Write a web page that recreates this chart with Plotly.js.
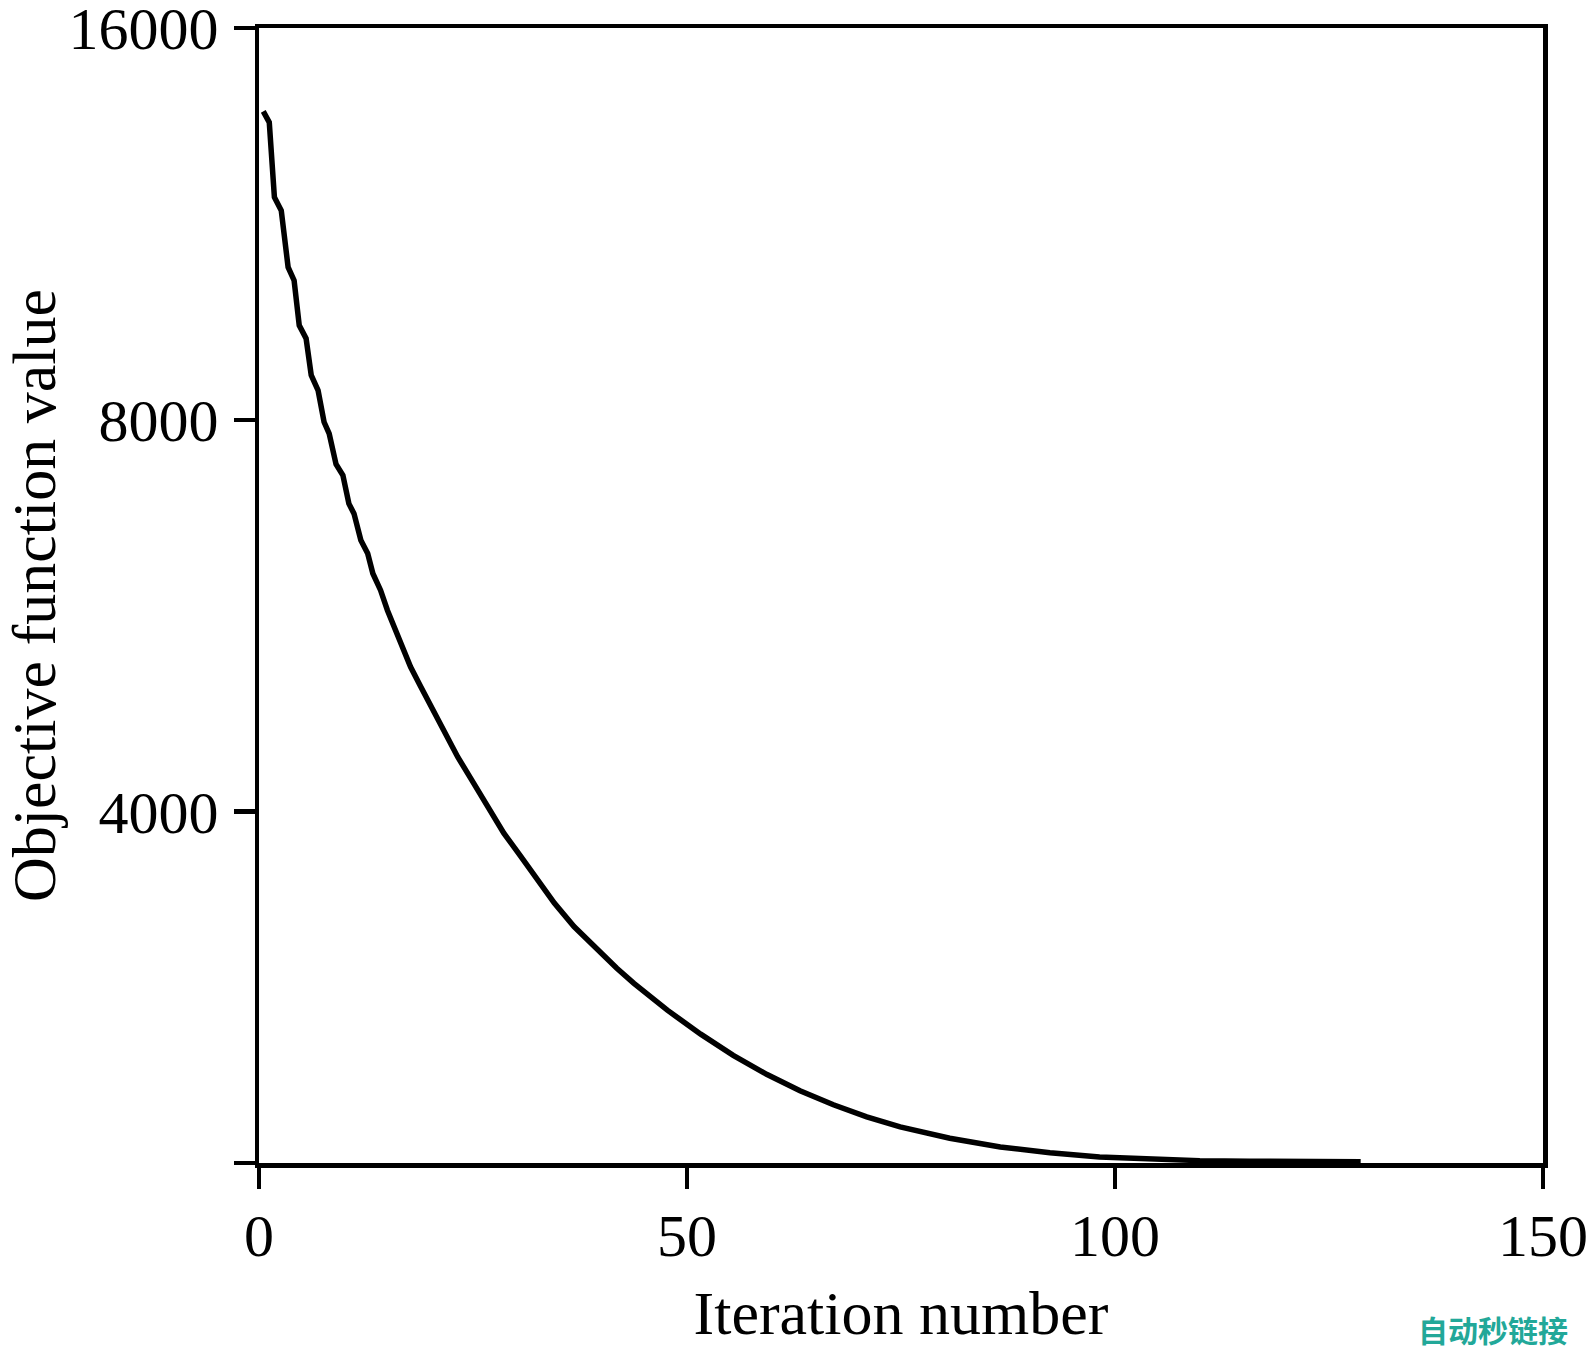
<!DOCTYPE html>
<html>
<head>
<meta charset="utf-8">
<script src="https://cdn.plot.ly/plotly-3.0.1.min.js"></script>
<style>
  html, body { margin: 0; padding: 0; background: #ffffff; }
  #chart { width: 1593px; height: 1352px; }
</style>
</head>
<body>
<div id="chart"></div>
<script>
// Iteration numbers (x)
const iterations = [
  0.5, 1.2, 1.8, 2.6, 3.4, 4.1, 4.7, 5.5, 6.1, 6.9,
  7.6, 8.2, 9.0, 9.8, 10.5, 11.1, 11.9, 12.7, 13.3, 14.2,
  15.0, 16.0, 16.6, 17.7, 18.9, 20.3, 21.6, 23.2, 24.7, 26.7,
  28.6, 30.6, 32.5, 34.5, 36.8, 39.1, 41.8, 43.8, 45.3, 47.7,
  51.6, 55.4, 59.3, 63.2, 67.1, 71.0, 74.9, 80.7, 86.6, 92.4,
  98.2, 104.1, 109.9, 115.7, 121.5, 128.7
];
// Objective function values
const objectiveValues = [
  13810, 13545, 11864, 11588, 10483, 10239, 9456, 9241, 8658, 8431,
  7970, 7809, 7396, 7253, 6898, 6777, 6465, 6315, 6096, 5919,
  5713, 5515, 5387, 5169, 4990, 4789, 4608, 4408, 4246, 4036,
  3850, 3694, 3545, 3402, 3264, 3151, 3032, 2952, 2897, 2815,
  2698, 2599, 2513, 2441, 2381, 2331, 2290, 2244, 2210, 2187,
  2171, 2162, 2157, 2155, 2154, 2153
];

const xTickVals = [0, 50, 100, 150];
const xTickText = ['0', '50', '100', '150'];
const yTickVals = [2148, 4000, 8000, 16000];
const yTickText = ['', '4000', '8000', '16000'];
const xRange = [0, 150];
const yRange = [2148, 16005];

const serif = 'Liberation Serif, Times New Roman, serif';

const trace = {
  x: iterations,
  y: objectiveValues,
  type: 'scatter',
  mode: 'lines',
  line: { color: '#000000', width: 5.5 },
  showlegend: false,
  hoverinfo: 'skip'
};

const layout = {
  width: 1593,
  height: 1352,
  paper_bgcolor: '#ffffff',
  plot_bgcolor: '#ffffff',
  margin: { l: 259, r: 50, t: 28, b: 189, pad: 0 },
  showlegend: false,
  xaxis: {
    range: xRange,
    tickvals: xTickVals,
    ticktext: xTickText,
    ticks: 'outside',
    ticklen: 21,
    tickwidth: 4.5,
    tickcolor: '#000000',
    showline: true,
    linecolor: '#000000',
    linewidth: 4.5,
    mirror: true,
    showgrid: false,
    zeroline: false,
    tickfont: { family: serif, size: 60, color: '#000000' },
    ticklabelstandoff: -5,
    ticklabeloverflow: 'allow',
    title: { text: 'Iteration number', font: { family: serif, size: 62, color: '#000000' }, standoff: 24 }
  },
  yaxis: {
    type: 'log',
    range: [Math.log10(yRange[0]), Math.log10(yRange[1])],
    tickvals: yTickVals,
    ticktext: yTickText,
    ticks: 'outside',
    ticklen: 21,
    tickwidth: 4.5,
    tickcolor: '#000000',
    showline: true,
    linecolor: '#000000',
    linewidth: 4.5,
    mirror: true,
    showgrid: false,
    zeroline: false,
    tickfont: { family: serif, size: 60, color: '#000000' },
    ticklabelstandoff: 3,
    ticklabeloverflow: 'allow',
    title: { text: 'Objective function value', font: { family: serif, size: 62, color: '#000000' }, standoff: 29 }
  },
  annotations: [{
    text: '<b>自动秒链接</b>',
    xref: 'paper', yref: 'paper',
    x: 1, y: 0,
    xanchor: 'right', yanchor: 'top',
    xshift: 27, yshift: -142,
    showarrow: false,
    font: { family: 'Noto Sans CJK SC', size: 30, color: '#22a899' }
  }]
};

Plotly.newPlot('chart', [trace], layout, { staticPlot: true, displayModeBar: false });
</script>
</body>
</html>
